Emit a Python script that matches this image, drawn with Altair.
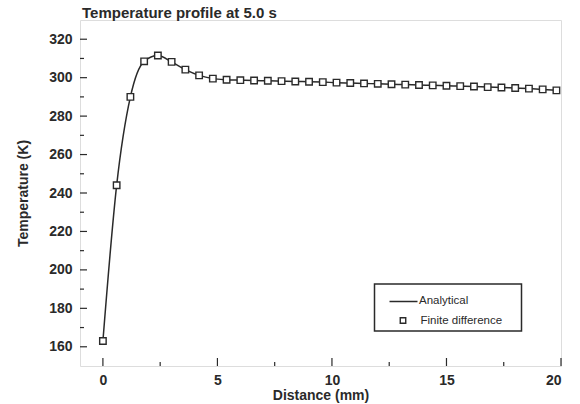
import altair as alt
import pandas as pd

# ---- data ----
distance_mm = [0.0, 0.6, 1.2, 1.8, 2.4, 3.0, 3.6, 4.2, 4.8, 5.4, 6.0, 6.6, 7.2, 7.8,
               8.4, 9.0, 9.6, 10.2, 10.8, 11.4, 12.0, 12.6, 13.2, 13.8, 14.4, 15.0,
               15.6, 16.2, 16.8, 17.4, 18.0, 18.6, 19.2, 19.8]
temperature_K = [163.0, 244.0, 290.0, 308.5, 311.5, 308.2, 304.2, 301.2, 299.5, 298.9,
                 298.7, 298.5, 298.4, 298.2, 298.0, 297.9, 297.7, 297.4, 297.2, 297.0,
                 296.8, 296.6, 296.4, 296.2, 296.0, 295.8, 295.6, 295.4, 295.1, 294.9,
                 294.6, 294.3, 293.9, 293.4]
series_names = ["Analytical", "Finite difference"]
title_text = "Temperature profile at 5.0 s"
x_title = "Distance (mm)"
y_title = "Temperature (K)"
x_major = [0, 5, 10, 15, 20]
x_minor = [2.5, 7.5, 12.5, 17.5]
y_major = [160, 180, 200, 220, 240, 260, 280, 300, 320]
y_minor = [170, 190, 210, 230, 250, 270, 290, 310]

df = pd.DataFrame({"x": distance_mm, "y": temperature_K})

W, H = 481, 346
INK = "#2a2a2a"
FONT = "Liberation Sans"

xscale = alt.Scale(domain=[-1, 20], nice=False, zero=False)
yscale = alt.Scale(domain=[150, 330], nice=False, zero=False)

xaxis = alt.Axis(values=x_major, ticks=False, domain=False, grid=False,
                 labelFont=FONT, labelFontSize=14, labelFontWeight="bold",
                 labelColor=INK, labelPadding=7, title=x_title,
                 titleFont=FONT, titleFontSize=14, titleFontWeight="bold",
                 titleColor=INK, titlePadding=1)
yaxis = alt.Axis(values=y_major, ticks=False, domain=False, grid=False,
                 labelFont=FONT, labelFontSize=14, labelFontWeight="bold",
                 labelColor=INK, labelPadding=8, title=y_title,
                 titleFont=FONT, titleFontSize=14, titleFontWeight="bold",
                 titleColor=INK, titlePadding=18)

base = alt.Chart(df)

line = base.mark_line(color=INK, strokeWidth=1.5, interpolate="monotone").encode(
    x=alt.X("x:Q", scale=xscale, axis=xaxis),
    y=alt.Y("y:Q", scale=yscale, axis=yaxis),
)
points = base.mark_point(shape="square", size=42, filled=True, fill="white",
                         stroke=INK, strokeWidth=1.4, opacity=1).encode(
    x=alt.X("x:Q", scale=xscale),
    y=alt.Y("y:Q", scale=yscale),
)

# inward ticks
ymaj = alt.Chart(pd.DataFrame({"v": y_major})).mark_rule(color=INK, strokeWidth=1.2).encode(
    y=alt.Y("v:Q", scale=yscale), x=alt.value(0), x2=alt.value(7))
ymin = alt.Chart(pd.DataFrame({"v": y_minor})).mark_rule(color=INK, strokeWidth=1.2).encode(
    y=alt.Y("v:Q", scale=yscale), x=alt.value(0), x2=alt.value(4))
xmaj = alt.Chart(pd.DataFrame({"v": x_major})).mark_rule(color=INK, strokeWidth=1.2).encode(
    x=alt.X("v:Q", scale=xscale), y=alt.value(H), y2=alt.value(H - 8))
xmin = alt.Chart(pd.DataFrame({"v": x_minor})).mark_rule(color=INK, strokeWidth=1.2).encode(
    x=alt.X("v:Q", scale=xscale), y=alt.value(H), y2=alt.value(H - 4))

# legend (drawn manually to mimic the boxed legend)
leg_df = pd.DataFrame({"name": series_names})
leg_box = alt.Chart(leg_df.head(1)).mark_rect(fill="white", stroke=INK, strokeWidth=1.5).encode(
    x=alt.value(294.5), x2=alt.value(441.5), y=alt.value(264), y2=alt.value(311))
leg_line = alt.Chart(leg_df.head(1)).mark_rule(color=INK, strokeWidth=1.5).encode(
    x=alt.value(309.5), x2=alt.value(337.5), y=alt.value(281.5))
leg_sq = alt.Chart(leg_df.head(1)).mark_point(shape="square", size=30, filled=True, fill="white",
                                              stroke=INK, strokeWidth=1.4, opacity=1).encode(
    x=alt.value(323), y=alt.value(300.5))
leg_t1 = alt.Chart(leg_df.iloc[[0]]).mark_text(align="left", baseline="middle", font=FONT,
                                                fontSize=11.5, color=INK).encode(
    x=alt.value(339), y=alt.value(281), text="name:N")
leg_t2 = alt.Chart(leg_df.iloc[[1]]).mark_text(align="left", baseline="middle", font=FONT,
                                                fontSize=11.5, color=INK).encode(
    x=alt.value(340.5), y=alt.value(300.5), text="name:N")

chart = alt.layer(line, points, ymaj, ymin, xmaj, xmin,
                  leg_box, leg_line, leg_sq, leg_t1, leg_t2).properties(
    width=W, height=H,
    title=alt.TitleParams(title_text, anchor="start", frame="group", font=FONT,
                          fontSize=15, fontWeight="bold", color=INK, offset=-1, dx=2),
    autosize=alt.AutoSizeParams(type="none"),
    padding={"left": 80, "top": 20, "right": 19, "bottom": 38},
).configure_view(stroke=INK, strokeWidth=1.5).configure(background="white")

chart.save("out.html", embed_options={"renderer": "svg", "actions": False})
